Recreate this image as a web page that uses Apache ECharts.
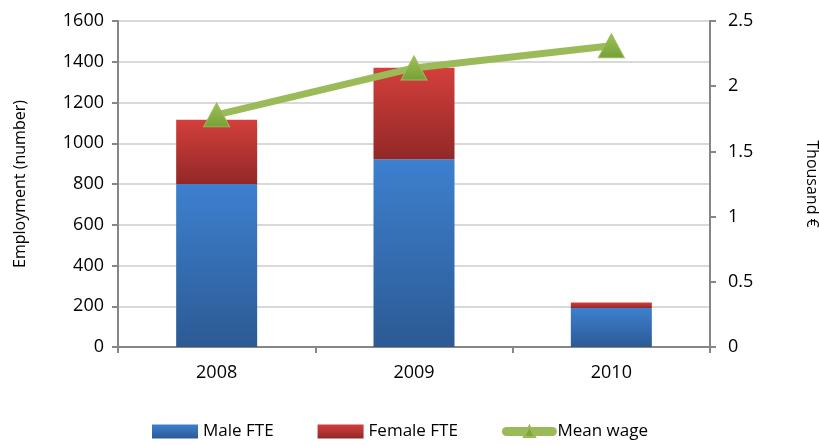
<!DOCTYPE html>
<html>
<head>
<meta charset="utf-8">
<script src="https://cdn.jsdelivr.net/npm/echarts@6/dist/echarts.min.js"></script>
<style>
  html, body { margin: 0; padding: 0; background: #fff; }
  #chart { width: 819px; height: 445px; }
</style>
</head>
<body>
<div id="chart"></div>
<script>
var years = ['2008', '2009', '2010'];
var maleFTE = [800, 922, 191];
var femaleFTE = [315, 448, 28];
var meanWage = [1.78, 2.14, 2.31];

var font = '"Open Sans", Lato, sans-serif';
var axisGrey = '#868686';

function vgrad(top, bottom) {
  return new echarts.graphic.LinearGradient(0, 0, 0, 1, [
    { offset: 0, color: top },
    { offset: 1, color: bottom }
  ]);
}

var myChart = echarts.init(document.getElementById('chart'));
myChart.setOption({
  animation: false,
  textStyle: { fontFamily: font },
  grid: { left: 118, right: 109, top: 21, bottom: 98, outerBoundsMode: 'none', containLabel: false },
  legend: {
    bottom: 0,
    left: 147,
    itemGap: 44,
    itemWidth: 46,
    itemHeight: 14,
    textStyle: { fontSize: 17, color: '#000', fontFamily: font },
    data: [
      { name: 'Male FTE', icon: 'rect' },
      { name: 'Female FTE', icon: 'rect' },
      { name: 'Mean wage', itemStyle: { color: '#7fa83f' }, lineStyle: { width: 9, cap: 'round', color: '#9bbb59' } }
    ]
  },
  xAxis: {
    type: 'category',
    data: years,
    axisLine: { lineStyle: { color: axisGrey, width: 2 } },
    axisTick: { show: true, length: 6, lineStyle: { color: axisGrey, width: 2 } },
    axisLabel: { fontSize: 18, color: '#000', margin: 17 }
  },
  yAxis: [
    {
      type: 'value',
      min: 0,
      max: 1600,
      interval: 200,
      name: 'Employment (number)',
      nameLocation: 'middle',
      nameGap: 90,
      nameTextStyle: { fontSize: 16, color: '#000' },
      axisLine: { show: true, lineStyle: { color: axisGrey, width: 2 } },
      axisTick: { show: true, length: 6, lineStyle: { color: axisGrey, width: 2 } },
      axisLabel: { fontSize: 18, color: '#000', margin: 14, formatter: function (v) { return String(v); } },
      splitLine: { lineStyle: { color: '#d9d9d9', width: 2 } }
    },
    {
      type: 'value',
      min: 0,
      max: 2.5,
      interval: 0.5,
      name: 'Thousand €',
      nameLocation: 'middle',
      nameRotate: -90,
      nameGap: 94,
      nameTextStyle: { fontSize: 16, color: '#000' },
      axisLine: { show: true, lineStyle: { color: axisGrey, width: 2 } },
      axisTick: { show: true, length: 6, lineStyle: { color: axisGrey, width: 2 } },
      axisLabel: { fontSize: 18, color: '#000', margin: 18 },
      splitLine: { show: false }
    }
  ],
  series: [
    {
      name: 'Male FTE',
      type: 'bar',
      stack: 'fte',
      barWidth: 81,
      data: maleFTE,
      itemStyle: { color: vgrad('#3d80cf', '#2c5a94') }
    },
    {
      name: 'Female FTE',
      type: 'bar',
      stack: 'fte',
      barWidth: 81,
      data: femaleFTE,
      itemStyle: { color: vgrad('#d33f3c', '#922826') }
    },
    {
      name: 'Mean wage',
      type: 'line',
      yAxisIndex: 1,
      data: meanWage,
      symbol: 'triangle',
      symbolSize: [26, 24],
      lineStyle: { color: '#9bbb59', width: 7 },
      itemStyle: { color: vgrad('#9cc257', '#76a037'), borderColor: '#9bbb59', borderWidth: 1 }
    }
  ]
});
</script>
</body>
</html>
